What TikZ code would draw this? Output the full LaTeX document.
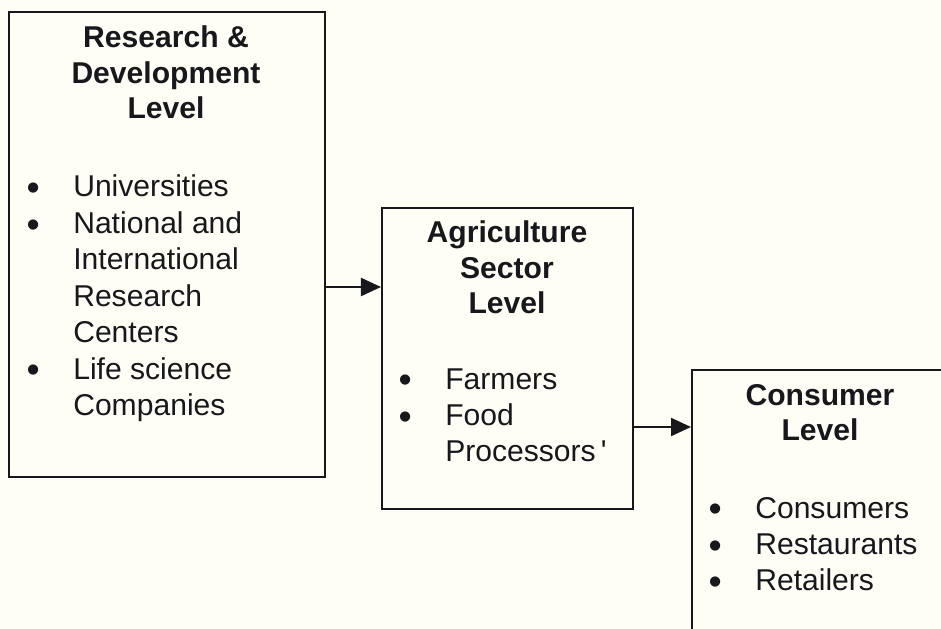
\documentclass[tikz,border=0pt]{standalone}
\usepackage{fontspec}
\usepackage{graphicx}
\setmainfont{Liberation Sans}
\usetikzlibrary{arrows.meta}
\definecolor{paper}{RGB}{255,254,246}
\definecolor{ink}{RGB}{24,24,28}
\newcommand{\itm}{\makebox[0pt]{\raisebox{-0.12em}{\scalebox{1.25}{\textbullet}}}\hspace{1cm}}
\newcommand{\noitm}{\hspace{1cm}}

\begin{document}
\begin{tikzpicture}[x=0.025cm,y=-0.025cm,
    box/.style={draw=ink, line width=1.5pt, anchor=north west, inner sep=0pt},
    title/.style={anchor=base, inner sep=0pt, text=ink,
      font=\fontsize{21.4}{24.9}\selectfont\bfseries},
    items/.style={anchor=base west, inner sep=0pt, text=ink,
      font=\fontsize{21.4}{25.9}\selectfont},
    arr/.style={draw=ink, line width=1.5pt, -{Triangle[length=0.5cm,width=0.45cm]}}]
  \useasboundingbox (0,0) rectangle (941,629);
  \fill[paper] (0,0) rectangle (941,629);
  \clip (0,0) rectangle (941,629);

  \node[box, minimum width=7.9cm, minimum height=11.625cm] (rd) at (8,11) {};
  \node[box, minimum width=6.275cm, minimum height=7.525cm] (ag) at (381,207) {};
  \node[box, minimum width=6.5cm, minimum height=7.5cm] (co) at (691,369) {};

  \node[title] (rdtitle) at (166,48) {\begin{tabular}[t]{@{}c@{}}Research \&\\ Development\\ Level\end{tabular}};
  \node[items] (rdlist) at (33,197) {\begin{tabular}[t]{@{}l@{}}
      \itm Universities\\
      \itm National and\\
      \noitm International\\
      \noitm Research\\
      \noitm Centers\\
      \itm Life science\\
      \noitm Companies\end{tabular}};

  \node[title] (agtitle) at (507,243) {\begin{tabular}[t]{@{}c@{}}Agriculture\\ Sector\\ Level\end{tabular}};
  \node[items] (aglist) at (405,389) {\begin{tabular}[t]{@{}l@{}}
      \itm Farmers\\
      \itm Food\\
      \noitm Processors\,\textquotesingle\end{tabular}};

  \node[title] (cotitle) at (820,405) {\begin{tabular}[t]{@{}c@{}}Consumer\\ Level\end{tabular}};
  \node[items] (colist) at (715,518) {\begin{tabular}[t]{@{}l@{}}
      \itm Consumers\\
      \itm Restaurants\\
      \itm Retailers\end{tabular}};

  \coordinate (a1) at (0,287);
  \coordinate (a2) at (0,427);
  \draw[arr] (rd.east |- a1) -- (ag.west |- a1);
  \draw[arr] (ag.east |- a2) -- (co.west |- a2);
\end{tikzpicture}
\end{document}
